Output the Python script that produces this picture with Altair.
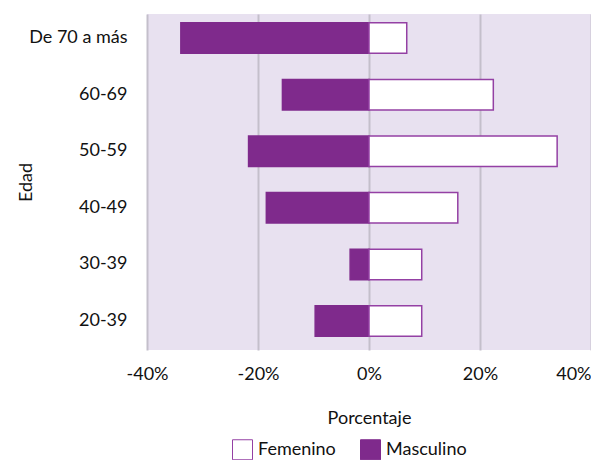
import altair as alt
import pandas as pd

ages = ["De 70 a más", "60-69", "50-59", "40-49", "30-39", "20-39"]
masculino = [-33.9, -15.6, -21.7, -18.5, -3.4, -9.7]
femenino = [6.8, 22.4, 33.9, 16.0, 9.5, 9.5]
series = ["Femenino", "Masculino"]
ticks = [-40, -20, 0, 20, 40]

rows = []
for a, m, f in zip(ages, masculino, femenino):
    rows.append({"Edad": a, "Sexo": "Masculino", "v": m})
    rows.append({"Edad": a, "Sexo": "Femenino", "v": f})
df = pd.DataFrame(rows)

FONT = "Lato"
PURPLE = "#7F2A8C"
EDGE = "#9440A4"

chart = alt.Chart(df).mark_bar(strokeWidth=1.5).encode(
    x=alt.X("v:Q", title="Porcentaje",
            scale=alt.Scale(domain=[-40, 40], nice=False),
            axis=alt.Axis(values=ticks, labelExpr="datum.value + '%'",
                          labelAlign={"condition": {"test": "datum.value == 40", "value": "right"},
                                      "value": "center"},
                          grid=True, gridColor="#C4BFCB", gridWidth=2,
                          domain=False, ticks=False, labelPadding=15,
                          titleY=73, titleBaseline="alphabetic")),
    y=alt.Y("Edad:N", title="Edad", sort=ages,
            scale=alt.Scale(paddingInner=0.461, paddingOuter=0.199, align=0.39),
            axis=alt.Axis(domain=False, ticks=False, labelPadding=20,
                          titleX=-112, titleY=168)),
    fill=alt.Fill("Sexo:N", scale=alt.Scale(domain=series, range=["#FFFFFF", PURPLE]),
                  legend=alt.Legend(orient="none", legendX=85, legendY=425,
                                    direction="horizontal", title=None,
                                    symbolType="square",
                                    symbolSize=400, symbolStrokeColor=EDGE,
                                    symbolStrokeWidth=1, columnPadding=22,
                                    labelOffset=5)),
    stroke=alt.Stroke("Sexo:N", scale=alt.Scale(domain=series, range=[EDGE, PURPLE]),
                      legend=None),
).properties(width=444, height=336, background="white",
             autosize=alt.AutoSizeParams(type="none"),
             padding={"left": 139, "top": 6, "right": 0, "bottom": 110}).configure_view(
    fill="#E8E1F0", stroke=None
).configure_axis(
    labelFont=FONT, titleFont=FONT, labelFontSize=18, titleFontSize=18,
    labelColor="#111111", titleColor="#111111", titleFontWeight="normal"
).configure_legend(
    labelFont=FONT, labelFontSize=18, labelColor="#111111"
)

chart.save("out.html", embed_options={"renderer": "svg", "actions": False})
